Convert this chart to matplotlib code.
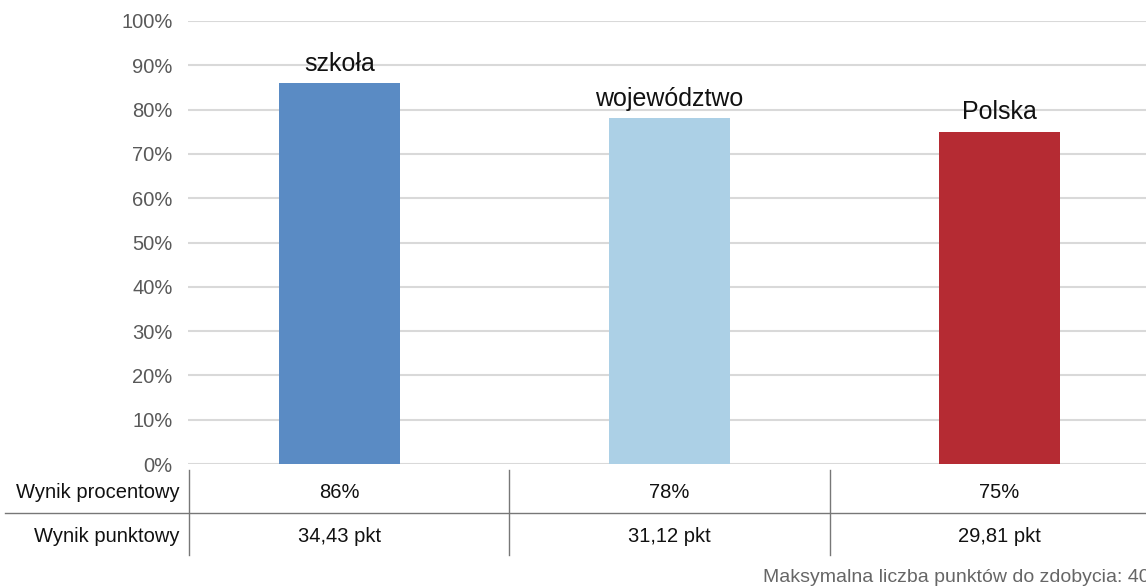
import matplotlib
matplotlib.use("Agg")
import matplotlib.pyplot as plt
import matplotlib.transforms as mtransforms

plt.rcParams['font.family'] = ['Liberation Sans', 'DejaVu Sans']

# ---- data ----
categories = ["szkoła", "województwo", "Polska"]
values = [86, 78, 75]
pct_labels = ["86%", "78%", "75%"]
pt_labels = ["34,43 pkt", "31,12 pkt", "29,81 pkt"]
row_labels = ["Wynik procentowy", "Wynik punktowy"]
y_ticks = [0, 10, 20, 30, 40, 50, 60, 70, 80, 90, 100]
footnote = "Maksymalna liczba punktów do zdobycia: 40"
colors = ["#5A8BC4", "#ACD0E6", "#B52B33"]

W, H = 1146, 587
fig = plt.figure(figsize=(W / 100, H / 100), dpi=100)

# main axes (pixel geometry)
left_px, right_px, top_px, bottom_px = 188, 1146, 21, 464
ax = fig.add_axes([left_px / W, 1 - bottom_px / H,
                   (right_px - left_px) / W, (bottom_px - top_px) / H])

x = list(range(len(categories)))
ax.bar(x, values, width=0.367, color=colors, zorder=3)
ax.set_xlim(-0.459, 2.444)
ax.set_ylim(0, 100)
ax.set_yticks(y_ticks)
ax.set_yticklabels([f"{t}%" for t in y_ticks], fontsize=14.5, color="#595959")
ax.tick_params(axis='y', length=0, pad=11)
ax.set_xticks([])
for s in ax.spines.values():
    s.set_visible(False)
ax.yaxis.grid(True, color="#d9d9d9", linewidth=1.5, zorder=0)
ax.set_axisbelow(True)

for xi, v, c in zip(x, values, categories):
    ax.annotate(c, (xi, v), xytext=(0, 9), textcoords="offset points",
                ha="center", va="baseline", fontsize=18, color="#111111")

# ---- table below ----
# blended: x in data coords, y in figure pixels (from top)
fig_px = mtransforms.Affine2D().scale(1 / W, -1 / H).translate(0, 1) + fig.transFigure
blend = mtransforms.blended_transform_factory(ax.transData, fig_px)

row_y = [493, 537]
for xi, p, q in zip(x, pct_labels, pt_labels):
    fig.text(xi, row_y[0], p, transform=blend, ha="center", va="center",
             fontsize=14.5, color="#111111")
    fig.text(xi, row_y[1], q, transform=blend, ha="center", va="center",
             fontsize=14.5, color="#111111")
for ry, lab in zip(row_y, row_labels):
    fig.text(180 / W, 1 - ry / H, lab, ha="right", va="center",
             fontsize=14.5, color="#111111")

# table lines
line_kw = dict(color="#777777", linewidth=1.0, transform=fig.transFigure)
fig.add_artist(plt.Line2D([5 / W, 1], [1 - 513 / H, 1 - 513 / H], **line_kw))
for vx in [189, 509, 830]:
    fig.add_artist(plt.Line2D([vx / W, vx / W], [1 - 470 / H, 1 - 555 / H], **line_kw))

fig.text(763 / W, 1 - 578 / H, footnote, ha="left", va="center",
         fontsize=14, color="#666666")

fig.savefig("out.png", dpi=100)
